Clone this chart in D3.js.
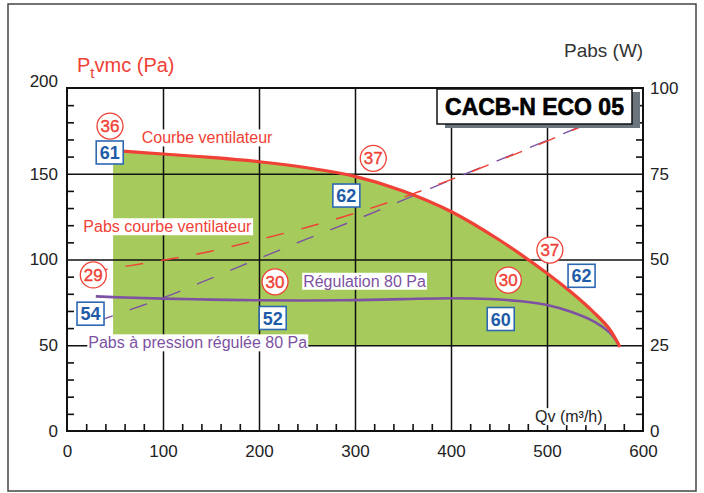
<!DOCTYPE html>
<html><head><meta charset="utf-8">
<script src="https://cdn.jsdelivr.net/npm/d3@7"></script>
<style>
html,body{margin:0;padding:0;background:#fff;}
svg{display:block;font-family:"Liberation Sans",Arial,sans-serif;}
</style></head>
<body>
<svg id="c" width="704" height="493"></svg>
<script>
// ---- data ----
const qTicks = [0,100,200,300,400,500,600];
const pTicks = [0,50,100,150,200];
const wTicks = [0,25,50,75,100];
// fan curve: [Qv m3/h, Pa]
const fanCurve = [[48,163.6],[100,161.5],[150,159.5],[200,157],[250,153.5],[300,148.5],[350,140],[400,128],[450,111.5],[500,92],[525,81],[550,68.5],[565,59.5],[576,49]];
// regulated 80 Pa curve: [Qv, Pa]
const regCurve = [[30,78.5],[60,77.8],[100,77.2],[150,76.6],[200,76.2],[250,76.1],[300,76.3],[350,76.9],[400,77.4],[440,77],[470,75.8],[500,73.5],[525,69.5],[550,63.5],[565,57.5],[574,51]];
// power absorbed on fan curve: [Qv, W]
const pabsFan = [[30,46.6],[50,47.5],[100,49.8],[150,52.4],[200,55.8],[250,59.4],[300,63.5],[350,68.1],[400,73.3],[450,78.8],[500,84.5],[550,90.5],[590,95]];
// power absorbed at regulated pressure: [Qv, W]
const pabsReg = [[30,31.8],[50,33.8],[100,38.8],[150,44.5],[200,50.3],[250,56],[300,61.5],[350,67.3],[400,73.2],[450,79],[500,84.7],[550,90.5],[590,95]];
// acoustic levels (circles) [Qv, Pa, label]
const circleLabels = [[44.8,177.8,"36"],[319,159,"37"],[503,105.5,"37"],[459.7,88,"30"],[27.4,91,"29"],[216.7,87,"30"]];
// power levels (boxes) [Qv, Pa, label]
const boxLabels = [[44.5,162.4,"61"],[291,137.3,"62"],[536,90.5,"62"],[451.8,65.3,"60"],[24.5,68.4,"54"],[214.3,65.9,"52"]];
// text labels [Qv, Pa, text, colour-key]
const textLabels = [[77.8,167.7,"Courbe ventilateur","red"],[17,115.9,"Pabs courbe ventilateur","red"],[246,84.1,"Régulation 80 Pa","purple"],[22.2,48.2,"Pabs à pression régulée 80 Pa","purple"],[487.5,5.2,"Qv (m³/h)","dark"]];
const title = "CACB-N ECO 05";

// ---- styles ----
const RED="#ef4136", PURPLE="#7d52a3", BLUE="#1f5ca8", GREEN="#a6cb5c", DARK="#222";
const colours={red:RED,purple:PURPLE,dark:DARK};

const svg = d3.select("#c");
const L=67, R=643, T=88, B=431;
const x = d3.scaleLinear().domain([0,600]).range([L,R]);
const y = d3.scaleLinear().domain([0,200]).range([B,T]);
const y2 = d3.scaleLinear().domain([0,100]).range([B,T]);
const smooth = d3.curveCatmullRom.alpha(0.5);

// outer frame
svg.append("rect").attr("x",8).attr("y",4).attr("width",688).attr("height",487)
  .attr("fill","#fff").attr("stroke","#444").attr("stroke-width",1.5);

// green operating area
const area = d3.area().curve(smooth)
  .x(d=>x(d[0])).y0(y(50)).y1(d=>y(Math.max(50,d[1])));
svg.append("path").datum(fanCurve).attr("d",area).attr("fill",GREEN);

// grid
const gx = svg.append("g").attr("transform",`translate(0,${B})`)
  .call(d3.axisBottom(x).tickValues([100,200,300,400,500]).tickSize(-(B-T)).tickFormat(""));
const gy = svg.append("g").attr("transform",`translate(${L},0)`)
  .call(d3.axisLeft(y).tickValues([50,100,150]).tickSize(-(R-L)).tickFormat(""));
[gx,gy].forEach(g=>{g.select(".domain").remove();g.selectAll("line").attr("stroke","#111").attr("stroke-width",1.5);});

// minor ticks
const minorP = d3.range(10,200,10).filter(v=>v%50);
const minorW = d3.range(5,100,5).filter(v=>v%25);
const minorQ = d3.range(20,600,20).filter(v=>v%100);
function styleTicks(g){g.select(".domain").remove();g.selectAll("line").attr("stroke","#111").attr("stroke-width",1.6);}
svg.append("g").attr("transform",`translate(${L},0)`).call(d3.axisRight(y).tickValues(minorP).tickSize(7).tickFormat("")).call(styleTicks);
svg.append("g").attr("transform",`translate(${R},0)`).call(d3.axisLeft(y2).tickValues(minorW).tickSize(7).tickFormat("")).call(styleTicks);
svg.append("g").attr("transform",`translate(0,${B})`).call(d3.axisTop(x).tickValues(minorQ).tickSize(7).tickFormat("")).call(styleTicks);

// dashed power curves
const lineW = d3.line().curve(smooth).x(d=>x(d[0])).y(d=>y2(d[1]));
svg.append("path").datum(pabsReg).attr("d",lineW).attr("fill","none").attr("stroke",PURPLE)
  .attr("stroke-width",1.4).attr("stroke-dasharray","18,18").attr("stroke-dashoffset",0);
svg.append("path").datum(pabsFan).attr("d",lineW).attr("fill","none").attr("stroke",RED)
  .attr("stroke-width",1.4).attr("stroke-dasharray","18,18").attr("stroke-dashoffset",6);

// pressure curves
const lineP = d3.line().curve(smooth).x(d=>x(d[0])).y(d=>y(d[1]));
svg.append("path").datum(regCurve).attr("d",lineP).attr("fill","none").attr("stroke",PURPLE).attr("stroke-width",2.6);
svg.append("path").datum(fanCurve).attr("d",lineP).attr("fill","none").attr("stroke",RED).attr("stroke-width",3.2);

// frame lines (axes)
svg.append("rect").attr("x",L).attr("y",T).attr("width",R-L).attr("height",B-T)
  .attr("fill","none").attr("stroke","#111").attr("stroke-width",2);

// axis labels
const ax1 = svg.append("g").attr("transform",`translate(0,${B})`)
  .call(d3.axisBottom(x).tickValues(qTicks).tickSize(0).tickPadding(14).tickFormat(d3.format("d")));
const ax2 = svg.append("g").attr("transform",`translate(${L},0)`)
  .call(d3.axisLeft(y).tickValues(pTicks).tickSize(0).tickPadding(9).tickFormat(d3.format("d")));
const ax3 = svg.append("g").attr("transform",`translate(${R},0)`)
  .call(d3.axisRight(y2).tickValues(wTicks).tickSize(0).tickPadding(7).tickFormat(d3.format("d")));
[ax1,ax2,ax3].forEach(g=>{g.select(".domain").remove();g.selectAll("text").attr("font-size",17).attr("fill",DARK).attr("font-family","Liberation Sans, Arial, sans-serif");});
ax2.selectAll(".tick").filter(d=>d===200).select("text").attr("dy","-0.1em");

// axis titles
const t1 = svg.append("text").attr("x",77).attr("y",72).attr("fill",RED).attr("font-size",20);
t1.append("tspan").text("P");
t1.append("tspan").attr("font-size",15).attr("dy",6).text("t");
t1.append("tspan").attr("dy",-6).text("vmc (Pa)");
svg.append("text").attr("x",564).attr("y",57).attr("fill","#333").attr("font-size",19).text("Pabs (W)");

// text labels with white background
textLabels.forEach(([q,p,t,c])=>{
  const g = svg.append("g");
  const tx = g.append("text").attr("x",x(q)).attr("y",y(p)).attr("fill",colours[c]).attr("font-size",16).text(t);
  const bb = tx.node().getBBox();
  g.insert("rect","text").attr("x",bb.x-1).attr("y",bb.y).attr("width",bb.width+2).attr("height",bb.height).attr("fill","#fff");
});

// circles
circleLabels.forEach(([q,p,t])=>{
  svg.append("circle").attr("cx",x(q)).attr("cy",y(p)).attr("r",13).attr("fill","#fff").attr("stroke",RED).attr("stroke-width",1.3);
  svg.append("text").attr("x",x(q)).attr("y",y(p)).attr("dy","0.36em").attr("text-anchor","middle")
    .attr("fill",RED).attr("stroke",RED).attr("stroke-width",0.4).attr("font-size",17).text(t);
});
// boxes
boxLabels.forEach(([q,p,t])=>{
  svg.append("rect").attr("x",x(q)-13.5).attr("y",y(p)-11.5).attr("width",27).attr("height",23)
    .attr("fill","#fff").attr("stroke","#2d68b2").attr("stroke-width",1.6);
  svg.append("text").attr("x",x(q)).attr("y",y(p)).attr("dy","0.37em").attr("text-anchor","middle")
    .attr("fill",BLUE).attr("font-size",18).attr("font-weight","bold").text(t);
});

// title box
svg.append("rect").attr("x",445).attr("y",92).attr("width",195).attr("height",36).attr("fill","#6b757e");
svg.append("rect").attr("x",437).attr("y",89).attr("width",195).attr("height",35).attr("fill","#fff").attr("stroke","#111").attr("stroke-width",1.5);
svg.append("text").attr("x",534.5).attr("y",115).attr("text-anchor","middle").attr("font-size",23)
  .attr("font-weight","bold").attr("fill","#000").attr("stroke","#000").attr("stroke-width",0.6).text(title);
</script>
</body></html>
